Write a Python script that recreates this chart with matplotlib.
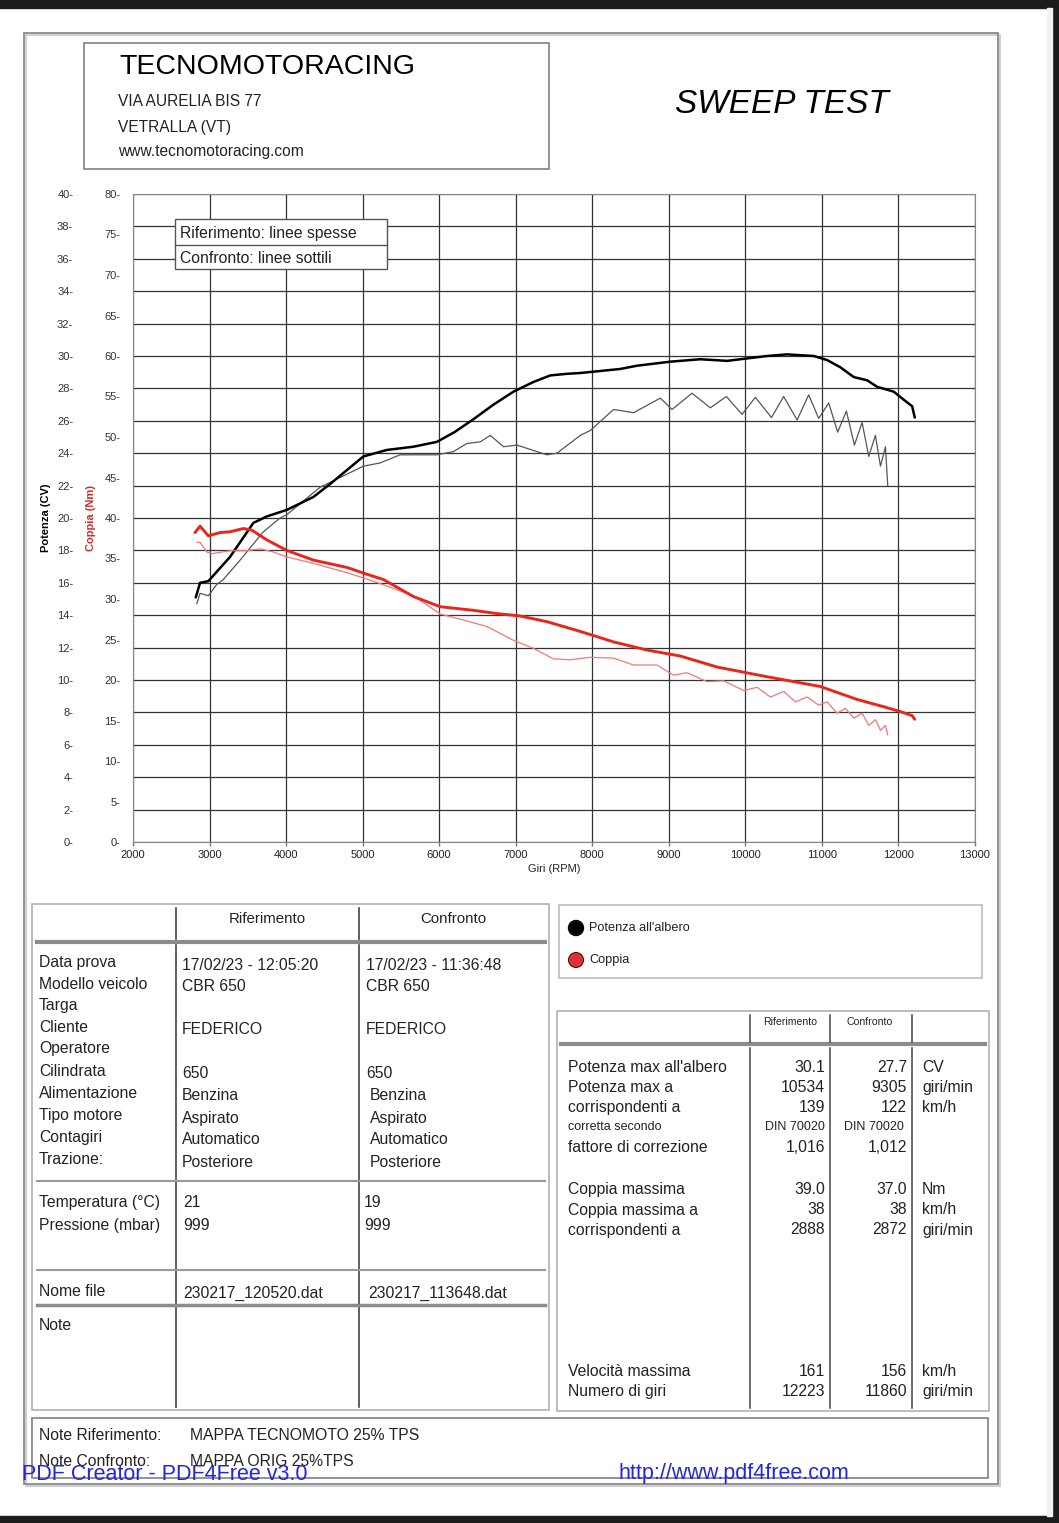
import numpy as np
import matplotlib.pyplot as plt
from matplotlib.patches import Rectangle, Circle

plt.rcParams['font.family'] = ['Liberation Sans', 'DejaVu Sans']

# ---- curve data ----
# reference run -> thick lines
rif_rpm_pot = [2820, 2876, 2984, 3268, 3573, 3750, 4009, 4357, 4575, 5010, 5316, 5664, 5970,
               6200, 6448, 6710, 6971, 7233, 7451, 7669, 7843, 8366, 8584, 9020, 9412, 9761,
               10022, 10284, 10545, 10893, 11068, 11242, 11416, 11591, 11721, 11938, 12069,
               12179, 12213]
rif_pot = [15.1, 16.0, 16.1, 17.6, 19.7, 20.1, 20.5, 21.3, 22.1, 23.8, 24.2, 24.4, 24.7,
           25.3, 26.1, 27.0, 27.8, 28.4, 28.8, 28.9, 28.95, 29.2, 29.4, 29.65, 29.8, 29.7,
           29.85, 30.0, 30.1, 30.0, 29.75, 29.3, 28.7, 28.5, 28.1, 27.8, 27.3,
           26.9, 26.2]
rif_rpm_cop = [2810, 2876, 2984, 3137, 3268, 3442, 3552, 3748, 4009, 4357, 4793, 5010,
               5272, 5664, 6013, 6448, 6754, 7059, 7408, 7843, 8279, 8715, 9150, 9630,
               10284, 10979, 11459, 11807, 12025, 12179, 12213]
rif_cop = [38.2, 39.0, 37.8, 38.2, 38.3, 38.7, 38.5, 37.3, 36.0, 34.8, 33.9, 33.2,
           32.4, 30.3, 29.05, 28.6, 28.2, 27.9, 27.2, 26.0, 24.7, 23.7, 22.96, 21.6,
           20.4, 19.2, 17.6, 16.7, 16.1, 15.6, 15.15]

# comparison run -> thin lines
conf_rpm_pot = [2833, 2876, 2984, 3094, 3180, 3399, 3703, 3922, 4009, 4444, 5010, 5229,
                5490, 5839, 5970, 6187, 6362, 6536, 6667, 6841, 7016, 7408, 7539, 7843,
                7974, 8279, 8540, 8889, 9042, 9303, 9542, 9752, 9957, 10131, 10341, 10500,
                10676, 10827, 10958, 11089, 11206, 11320, 11425, 11525, 11612, 11699, 11765,
                11830, 11860]
conf_pot = [14.7, 15.35, 15.2, 15.9, 16.2, 17.4, 19.15, 20.0, 20.2, 21.9, 23.2, 23.4,
            23.9, 23.9, 23.9, 24.1, 24.6, 24.7, 25.1, 24.4, 24.5, 23.9, 24.0, 25.1,
            25.4, 26.7, 26.5, 27.4, 26.7, 27.7, 26.8, 27.5, 26.4, 27.45, 26.2, 27.5,
            26.05, 27.6, 26.15, 27.1, 25.3, 26.6, 24.5, 25.9, 23.8, 25.1, 23.2,
            24.4, 22.0]
conf_rpm_cop = [2833, 2876, 2963, 3029, 3268, 3486, 3660, 3834, 4009, 4357, 4793, 5010,
                5229, 5664, 6013, 6318, 6624, 6971, 7233, 7494, 7712, 7974, 8279, 8540,
                8846, 9063, 9238, 9499, 9716, 9978, 10153, 10327, 10501, 10654, 10806,
                10958, 11068, 11198, 11307, 11416, 11525, 11612, 11699, 11765, 11830, 11860]
conf_cop = [37.0, 37.0, 35.8, 35.6, 35.96, 35.96, 36.2, 35.8, 35.2, 34.4, 33.25, 32.6,
            31.9, 30.4, 28.15, 27.4, 26.6, 24.9, 23.9, 22.6, 22.5, 22.8, 22.7, 21.85,
            21.85, 20.6, 20.9, 19.8, 19.9, 18.7, 19.1, 17.9, 18.6, 17.3, 17.9,
            16.9, 17.3, 15.9, 16.5, 15.3, 15.9, 14.4, 15.1, 13.8, 14.4, 13.2]

x_ticks = list(range(2000, 13001, 1000))
pot_ticks = list(range(0, 41, 2))
cop_ticks = list(range(0, 81, 5))

# ---- sheet texts ----
info_labels = ['Data prova', 'Modello veicolo', 'Targa', 'Cliente', 'Operatore',
               'Cilindrata', 'Alimentazione', 'Tipo motore', 'Contagiri', 'Trazione:']
info_rif = ['17/02/23 - 12:05:20', 'CBR 650', '', 'FEDERICO', '', '650', 'Benzina',
            'Aspirato', 'Automatico', 'Posteriore']
info_conf = ['17/02/23 - 11:36:48', 'CBR 650', '', 'FEDERICO', '', '650', 'Benzina',
             'Aspirato', 'Automatico', 'Posteriore']
amb_labels = ['Temperatura (°C)', 'Pressione (mbar)']
amb_rif = ['21', '999']
amb_conf = ['19', '999']
file_rif = '230217_120520.dat'
file_conf = '230217_113648.dat'

res_labels = ["Potenza max all'albero", 'Potenza max a', 'corrispondenti a', 'corretta secondo',
              'fattore di correzione', 'Coppia massima', 'Coppia massima a', 'corrispondenti a',
              'Velocità massima', 'Numero di giri']
res_rif = ['30.1', '10534', '139', 'DIN 70020', '1,016', '39.0', '38', '2888', '161', '12223']
res_conf = ['27.7', '9305', '122', 'DIN 70020', '1,012', '37.0', '38', '2872', '156', '11860']
res_unit = ['CV', 'giri/min', 'km/h', '', '', 'Nm', 'km/h', 'giri/min', 'km/h', 'giri/min']

note_rif = 'MAPPA TECNOMOTO 25% TPS'
note_conf = 'MAPPA ORIG 25%TPS'

# ---- figure ----
W, H = 1059, 1523
fig = plt.figure(figsize=(W / 100, H / 100), dpi=100)
fig.patch.set_facecolor('white')

bg = fig.add_axes([0, 0, 1, 1])
bg.set_xlim(0, W)
bg.set_ylim(H, 0)
bg.axis('off')

txt = '#222222'
dark = '#1c1c1c'
bg.add_patch(Rectangle((0, 0), W, 8, color=dark))
bg.add_patch(Rectangle((0, 1516), W, 8, color=dark))
bg.add_patch(Rectangle((1052, 0), 8, H, color=dark))
bg.add_patch(Rectangle((1047, 8), 5, 1508, color='#f2f2f2'))

# page frame
bg.add_patch(Rectangle((26, 35), 974, 1451, fill=False, ec='#d0d0d0', lw=1.5))
bg.add_patch(Rectangle((24, 33), 974, 1451, fill=False, ec='#8a8a8a', lw=1.3))

# header
bg.add_patch(Rectangle((84, 43), 465, 126, fill=False, ec='#777777', lw=1.1))
bg.text(119, 67, 'TECNOMOTORACING', fontsize=20.5, color='black', va='center')
bg.text(118, 101, 'VIA AURELIA BIS 77', fontsize=11.2, color=txt, va='center')
bg.text(118, 127, 'VETRALLA (VT)', fontsize=11.2, color=txt, va='center')
bg.text(118, 151, 'www.tecnomotoracing.com', fontsize=11.2, color=txt, va='center')
bg.text(782, 104, 'SWEEP TEST', fontsize=24, style='italic', color='black',
        ha='center', va='center')

# ---- chart ----
ax = fig.add_axes([133 / W, 1 - 842 / H, 842 / W, 648 / H])
ax.set_xlim(2000, 13000)
ax.set_ylim(0, 40)
ax.set_xticks(x_ticks)
ax.set_yticks(pot_ticks)
ax.set_yticklabels([f'{v}-' for v in pot_ticks])
ax.tick_params(axis='y', length=0, pad=43, labelsize=8, labelcolor='#333333')
ax.tick_params(axis='x', length=3, width=1, pad=3, labelsize=8, color='#777777',
               labelcolor=txt)
ax.grid(True, color='#333333', lw=0.9)
ax.set_axisbelow(True)
for s in ax.spines.values():
    s.set_color('#888888')
ax.set_xlabel('Giri (RPM)', fontsize=8, color=txt, labelpad=3)
ax.set_ylabel('Potenza (CV)', fontsize=8, fontweight='bold', color='black', labelpad=4)

ax2 = ax.twinx()
ax2.set_ylim(0, 80)
ax2.set_yticks(cop_ticks)
ax2.yaxis.tick_left()
ax2.yaxis.set_label_position('left')
ax2.set_yticklabels([f'{v}-' for v in cop_ticks])
ax2.tick_params(axis='y', length=0, pad=9, labelsize=8, labelcolor='#333333')
for s in ax2.spines.values():
    s.set_visible(False)
ax2.set_ylabel('Coppia (Nm)', fontsize=8, fontweight='bold', color='#d42a2a', labelpad=6)

kw = dict(solid_joinstyle='round', solid_capstyle='round')
ax.plot(conf_rpm_pot, conf_pot, color='#555555', lw=0.9, **kw)
ax.plot(rif_rpm_pot, rif_pot, color='black', lw=1.8, **kw)
ax2.plot(conf_rpm_cop, conf_cop, color='#f07878', lw=0.9, **kw)
ax2.plot(rif_rpm_cop, rif_cop, color='#e8271c', lw=2.1, **kw)

# ---- overlay: legend box in chart + tables ----
ov = fig.add_axes([0, 0, 1, 1])
ov.set_xlim(0, W)
ov.set_ylim(H, 0)
ov.axis('off')
ov.patch.set_alpha(0)

ov.add_patch(Rectangle((175, 219), 212, 50, fc='white', ec='#555555', lw=1))
ov.plot([175, 387], [245, 245], color='#555555', lw=1)
ov.text(180, 233, 'Riferimento: linee spesse', fontsize=11.3, color=txt, va='center')
ov.text(180, 258, 'Confronto: linee sottili', fontsize=11.3, color=txt, va='center')

fs = 11.3
# left table
ov.add_patch(Rectangle((32, 904), 517, 506, fill=False, ec='#b0b0b0', lw=1.2))
ov.plot([37, 545], [941.5, 941.5], color='#8c8c8c', lw=3)
for xc in (176, 359):
    ov.plot([xc, xc], [908, 939], color='#444444', lw=1.2)
    ov.plot([xc, xc], [945, 1407], color='#444444', lw=1.2)
ov.plot([37, 545], [1181, 1181], color='#9a9a9a', lw=1.5)
ov.plot([37, 545], [1270, 1270], color='#9a9a9a', lw=1.5)
ov.plot([37, 545], [1305, 1305], color='#8c8c8c', lw=2.5)
ov.text(267, 919, 'Riferimento', fontsize=10.8, color=txt, ha='center', va='center')
ov.text(453, 919, 'Confronto', fontsize=10.8, color=txt, ha='center', va='center')

lab_y = [962.5, 984, 1005.5, 1027.5, 1048, 1071, 1093, 1115.5, 1137.5, 1160]
for i, lab in enumerate(info_labels):
    ov.text(39, lab_y[i], lab, fontsize=fs, color=txt, va='center')
    ov.text(182, lab_y[i] + 2.5, info_rif[i], fontsize=fs, color=txt, va='center')
    xo = 366 if i < 6 else 370
    ov.text(xo, lab_y[i] + 2.5, info_conf[i], fontsize=fs, color=txt, va='center')
for i, lab in enumerate(amb_labels):
    yy = 1202.5 + i * 23
    ov.text(39, yy, lab, fontsize=fs, color=txt, va='center')
    ov.text(183, yy, amb_rif[i], fontsize=fs, color=txt, va='center')
    ov.text(364, yy, amb_conf[i], fontsize=fs, color=txt, va='center')
ov.text(39, 1291.5, 'Nome file', fontsize=fs, color=txt, va='center')
ov.text(183, 1293, file_rif, fontsize=fs, color=txt, va='center')
ov.text(368, 1293, file_conf, fontsize=fs, color=txt, va='center')
ov.text(39, 1326, 'Note', fontsize=fs, color=txt, va='center')

# legend of the quantities
ov.add_patch(Rectangle((559, 905), 423, 73, fill=False, ec='#bdbdbd', lw=1.2))
ov.add_patch(Circle((576, 928), 7.5, fc='black', ec='black'))
ov.add_patch(Circle((576, 960), 7.5, fc='#e0303c', ec='#5a1010', lw=0.8))
ov.text(589, 928, "Potenza all'albero", fontsize=9.2, color=txt, va='center')
ov.text(589, 960, 'Coppia', fontsize=9.2, color=txt, va='center')

# right table
ov.add_patch(Rectangle((557, 1011), 432, 400, fill=False, ec='#b0b0b0', lw=1.2))
ov.plot([561, 985], [1044, 1044], color='#8c8c8c', lw=3)
for xc in (750, 830, 912):
    ov.plot([xc, xc], [1015, 1042], color='#444444', lw=1.1)
    ov.plot([xc, xc], [1048, 1408], color='#444444', lw=1.1)
ov.text(790, 1022, 'Riferimento', fontsize=7.6, color=txt, ha='center', va='center')
ov.text(870, 1022, 'Confronto', fontsize=7.6, color=txt, ha='center', va='center')

res_y = [1067.5, 1087.5, 1107.5, 1127.5, 1147.5, 1189.5, 1210, 1230, 1371.5, 1391.5]
for i, lab in enumerate(res_labels):
    small = lab == 'corretta secondo'
    f = 9 if small else fs
    ov.text(568, res_y[i], lab, fontsize=f, color=txt, va='center')
    ov.text(825, res_y[i], res_rif[i], fontsize=f, color=txt, ha='right', va='center')
    ov.text(904 if small else 907, res_y[i], res_conf[i], fontsize=f, color=txt,
            ha='right', va='center')
    ov.text(922, res_y[i], res_unit[i], fontsize=f, color=txt, va='center')

# notes
ov.add_patch(Rectangle((32, 1418), 956, 60, fill=False, ec='#8a8a8a', lw=1.3))
ov.text(39, 1436, 'Note Riferimento:', fontsize=fs, color=txt, va='center')
ov.text(190, 1436, note_rif, fontsize=fs, color=txt, va='center')
ov.text(39, 1461, 'Note Confronto:', fontsize=fs, color=txt, va='center')
ov.text(190, 1461, note_conf, fontsize=fs, color=txt, va='center')

# watermark (it overlaps the notes in the original too)
ov.text(22, 1474, 'PDF Creator - PDF4Free v3.0', fontsize=15.5, color='#2424e6', va='center')
ov.text(618, 1474, 'http://www.pdf4free.com', fontsize=15.5, color='#2424e6', va='center')

fig.savefig('out.png', dpi=100)
